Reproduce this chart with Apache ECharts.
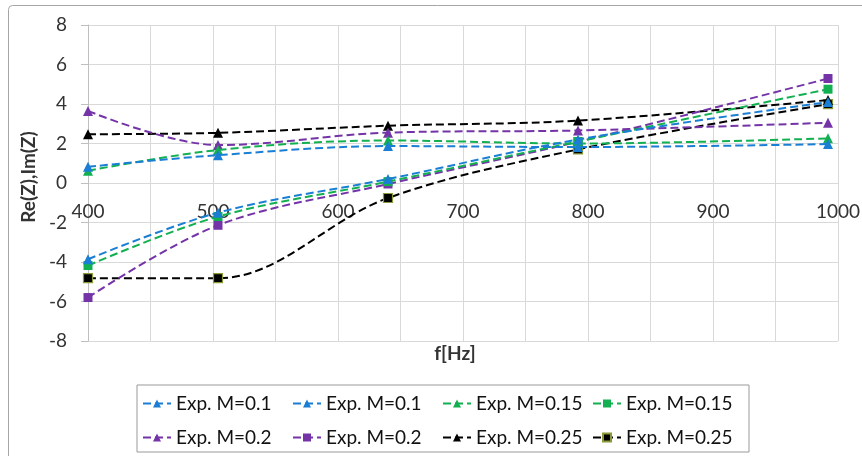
<!DOCTYPE html>
<html>
<head>
<meta charset="utf-8">
<script src="https://cdn.jsdelivr.net/npm/echarts@6/dist/echarts.min.js"></script>
<style>
html,body{margin:0;padding:0;background:#fff;}
#chart{width:862px;height:456px;}
</style>
</head>
<body>
<div id="chart"></div>
<script>
// ---- data ----
const freqs = [400, 504, 640, 792, 992];
const xTicks = [400, 500, 600, 700, 800, 900, 1000];
const yTicks = [-8, -6, -4, -2, 0, 2, 4, 6, 8];

const re01 = [0.82, 1.41, 1.87, 1.82, 1.97];
const im01 = [-3.86, -1.5, 0.2, 2.2, 4.1];
const re015 = [0.62, 1.67, 2.15, 2.0, 2.26];
const im015 = [-4.18, -1.7, 0.07, 2.1, 4.75];
const re02 = [3.65, 1.92, 2.55, 2.66, 3.05];
const im02 = [-5.8, -2.14, -0.05, 2.09, 5.29];
const re025 = [2.47, 2.54, 2.9, 3.16, 4.2];
const im025 = [-4.82, -4.82, -0.76, 1.7, 3.99];

const legendLabels = ['Exp. M=0.1', 'Exp. M=0.1', 'Exp. M=0.15', 'Exp. M=0.15',
                      'Exp. M=0.2', 'Exp. M=0.2', 'Exp. M=0.25', 'Exp. M=0.25'];
const seriesKeys = ['s1', 's2', 's3', 's4', 's5', 's6', 's7', 's8'];
const seriesValues = [re01, im01, re015, im015, re02, im02, re025, im025];
const seriesColors = ['#1a7fd4', '#1a7fd4', '#12b050', '#12b050', '#7434a8', '#7434a8', '#000000', '#000000'];
const seriesSymbols = ['triangle', 'triangle', 'triangle', 'rect', 'triangle', 'rect', 'triangle', 'rect'];

const FONT = 'Lato';

function pairs(vals) { return freqs.map((f, i) => [f, vals[i]]); }

const series = seriesKeys.map((k, i) => ({
  name: k,
  type: 'line',
  data: pairs(seriesValues[i]),
  smooth: 0.35,
  symbol: seriesSymbols[i],
  symbolSize: seriesSymbols[i] === 'rect' ? 9 : 10,
  lineStyle: { color: seriesColors[i], width: 2, type: [8, 4] },
  itemStyle: {
    color: seriesColors[i],
    borderColor: i === 7 ? '#8c9a3a' : seriesColors[i],
    borderWidth: i === 7 ? 1.2 : 0
  },
  z: 10 - i * 0.1
}));

const chart = echarts.init(document.getElementById('chart'), null, { renderer: 'canvas' });
chart.setOption({
  animation: false,
  backgroundColor: '#fff',
  textStyle: { fontFamily: FONT },
  graphic: [{
    type: 'rect',
    shape: { x: 8.5, y: 5.5, width: 900, height: 500, r: 4 },
    style: { fill: 'none', stroke: '#a6a6a6', lineWidth: 1 },
    silent: true, z: -1
  }],
  grid: { left: 88, top: 25, width: 750, height: 316, containLabel: false, outerBoundsMode: 'none' },
  xAxis: {
    type: 'value',
    min: 400, max: 1000, interval: 50,
    name: 'f[Hz]',
    nameLocation: 'middle',
    nameGap: 3,
    nameMoveOverlap: false,
    nameTextStyle: { fontFamily: FONT, fontSize: 19, fontWeight: 'bold', color: '#333', padding: [0, 16, 0, 0] },
    axisLine: { show: false, onZero: false },
    axisTick: { show: false },
    axisLabel: {
      margin: -139, fontFamily: FONT, fontSize: 19, color: '#333',
      hideOverlap: false,
      formatter: v => (xTicks.indexOf(v) >= 0 ? String(v) : '')
    },
    splitLine: { show: true, lineStyle: { color: '#d9d9d9', width: 1 } }
  },
  yAxis: {
    type: 'value',
    min: -8, max: 8, interval: 2,
    name: 'Re(Z),Im(Z)',
    nameLocation: 'middle',
    nameGap: 47,
    nameRotate: 90,
    nameTextStyle: { fontFamily: FONT, fontSize: 19, fontWeight: 'bold', color: '#333', padding: [0, 0, 0, 12] },
    axisLine: { show: true, onZero: false, lineStyle: { color: '#bfbfbf', width: 1 } },
    axisTick: { show: true, length: 7, lineStyle: { color: '#bfbfbf' } },
    axisLabel: {
      margin: 21, fontFamily: FONT, fontSize: 19, color: '#333',
      formatter: v => (yTicks.indexOf(v) >= 0 ? String(v) : '')
    },
    splitLine: { show: true, lineStyle: { color: '#d9d9d9', width: 1 } }
  },
  legend: {
    data: seriesKeys,
    left: 137, top: 385,
    width: 620,
    orient: 'horizontal',
    itemWidth: 28, itemHeight: 10,
    itemGap: 7,
    padding: [5, 14, 1, 5],
    borderColor: '#999', borderWidth: 1,
    formatter: name => legendLabels[seriesKeys.indexOf(name)],
    textStyle: { fontFamily: FONT, fontSize: 19, color: '#111', width: 109, lineHeight: 27, overflow: 'none' },
    selectedMode: false
  },
  series: series
});
</script>
</body>
</html>
